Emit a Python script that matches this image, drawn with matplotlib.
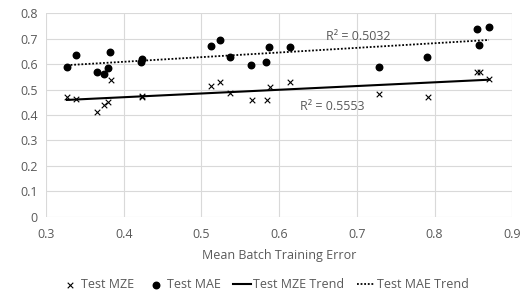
import numpy as np
import matplotlib
matplotlib.use("Agg")
import matplotlib.pyplot as plt

plt.rcParams["font.family"] = ["Open Sans", "DejaVu Sans"]

# training error (x) vs test metrics (y)
mze_x = [0.327, 0.339, 0.365, 0.375, 0.380, 0.383, 0.423, 0.424, 0.512, 0.5245,
         0.5365, 0.565, 0.5845, 0.588, 0.614, 0.728, 0.7914, 0.8544, 0.858, 0.870]
mze_y = [0.472, 0.464, 0.413, 0.441, 0.451, 0.537, 0.476, 0.471, 0.515, 0.530,
         0.485, 0.459, 0.460, 0.511, 0.530, 0.481, 0.471, 0.569, 0.569, 0.540]
mae_x = [0.327, 0.339, 0.365, 0.374, 0.380, 0.382, 0.423, 0.4225, 0.512, 0.524,
         0.5365, 0.5644, 0.5837, 0.587, 0.6136, 0.728, 0.7906, 0.854, 0.870, 0.8574]
mae_y = [0.590, 0.635, 0.569, 0.563, 0.586, 0.647, 0.620, 0.607, 0.673, 0.696,
         0.629, 0.597, 0.610, 0.669, 0.669, 0.589, 0.627, 0.740, 0.747, 0.677]

xticks = [0.3, 0.4, 0.5, 0.6, 0.7, 0.8, 0.9]
yticks = [0, 0.1, 0.2, 0.3, 0.4, 0.5, 0.6, 0.7, 0.8]
TXT = "#595959"
GRID = "#d9d9d9"


def trend(x, y):
    x = np.asarray(x); y = np.asarray(y)
    k, b = np.polyfit(x, y, 1)
    xs = np.array([x.min(), x.max()])
    return xs, k * xs + b


fig = plt.figure(figsize=(5.3, 2.93), dpi=100)
ax = fig.add_axes([0.0868, 0.2604, 0.8798, 0.6942])

ax.scatter(mze_x, mze_y, marker="x", s=16, color="black", linewidths=0.8,
           label="Test MZE", zorder=3)
ax.scatter(mae_x, mae_y, marker="o", s=22, color="black", label="Test MAE", zorder=3)

tx, ty = trend(mze_x, mze_y)
ax.plot(tx, ty, color="black", lw=1.5, label="Test MZE Trend", zorder=2)
tx2, ty2 = trend(mae_x, mae_y)
ax.plot(tx2, ty2, color="black", lw=1.3, ls=(0, (1, 1)), label="Test MAE Trend", zorder=2)

ax.text(0.702, 0.708, "R² = 0.5032", color=TXT, fontsize=9, ha="center", va="center")
ax.text(0.6685, 0.433, "R² = 0.5553", color=TXT, fontsize=9, ha="center", va="center")

ax.set_xlim(0.3, 0.9)
ax.set_ylim(0, 0.8)
ax.set_xticks(xticks)
ax.set_yticks(yticks)
ax.set_xticklabels([f"{v:g}" for v in xticks])
ax.set_yticklabels([f"{v:g}" for v in yticks])
ax.tick_params(length=0, colors=TXT, labelsize=9, pad=6)
ax.tick_params(axis="x", pad=8)
ax.grid(True, color=GRID, lw=0.8)
ax.set_axisbelow(True)
for s in ax.spines.values():
    s.set_visible(False)
ax.set_xlabel("Mean Batch Training Error", color=TXT, fontsize=9, labelpad=6)

ax.legend(loc="center", bbox_to_anchor=(0.47, -0.335), ncol=4, frameon=False,
          fontsize=9, labelcolor=TXT, handlelength=1.4, handletextpad=0.2,
          columnspacing=1.0, borderpad=0.2)

fig.savefig("out.png", dpi=100)
